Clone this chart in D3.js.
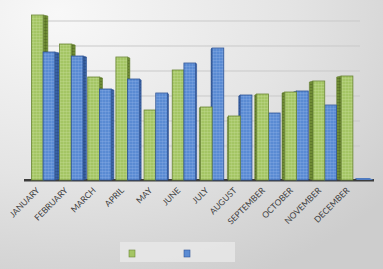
<!DOCTYPE html>
<html>
<head>
<meta charset='utf-8'>
<style>
body { margin:0; overflow:hidden; }
svg { display:block; }
.lbl { font-family: Lato, 'Open Sans', sans-serif; font-size: 8.5px; fill: #404040; }
</style>
</head>
<body>
<svg width="383" height="269"></svg>
<script src="https://d3js.org/d3.v7.min.js"></script>
<script>

// data (arbitrary units)
var months = ["JANUARY","FEBRUARY","MARCH","APRIL","MAY","JUNE","JULY","AUGUST","SEPTEMBER","OCTOBER","NOVEMBER","DECEMBER"];
var greenVals = [165,136,103,123,70,110,73,64,86,88,99,104];
var blueVals  = [128,124,91,101,87,117,132,85,67,89,75,1];
var gridVals  = [25,50,75,100,125,150];
var seriesNames = ["", ""];

var svg = d3.select('svg'),
    width = 383, height = 269,
    baseY = 180, depth = 9, eyeX = 196;

var defs = svg.append('defs');
var bg = defs.append('radialGradient').attr('id','bg')
  .attr('cx','0.15').attr('cy','0.05').attr('r','1.1');
bg.append('stop').attr('offset','0').attr('stop-color','#f8f8f8');
bg.append('stop').attr('offset','0.55').attr('stop-color','#e4e4e4');
bg.append('stop').attr('offset','1').attr('stop-color','#cdcdcd');

// little dotted texture on the bars
function texture(id, base, light) {
  var p = defs.append('pattern').attr('id', id)
    .attr('width', 3).attr('height', 3).attr('patternUnits','userSpaceOnUse');
  p.append('rect').attr('width',3).attr('height',3).attr('fill', base);
  p.append('rect').attr('width',3).attr('height',1).attr('fill', light).attr('opacity',0.35);
  p.append('rect').attr('width',1).attr('height',3).attr('fill', light).attr('opacity',0.25);
}
texture('gFront', '#a4c564', '#c8e09a');
texture('bFront', '#5a8bd3', '#8fb2e6');
texture('gSide', '#6f8c34', '#3e5218');
texture('bSide', '#3b64a6', '#21406e');

svg.append('rect').attr('width', width).attr('height', height).attr('fill','url(#bg)');

var x = d3.scaleBand().domain(months).range([30, 366]).paddingInner(0.17).paddingOuter(0.05);
var xs = d3.scaleBand().domain([0,1]).range([0, x.bandwidth()]);
var y = d3.scaleLinear().domain([0, 180]).range([baseY, 0]);

// back wall gridlines
svg.append('g').selectAll('line').data(gridVals).enter().append('line')
  .attr('x1', 47).attr('x2', 360)
  .attr('y1', d => y(d) - depth).attr('y2', d => y(d) - depth)
  .attr('stroke', '#c9c9c9').attr('stroke-width', 1);

// floor edge
svg.append('rect').attr('x', 24).attr('y', baseY - 1).attr('width', 350).attr('height', 2.5)
  .attr('fill', '#3c3c3c');

// bars
var bars = [];
months.forEach(function(m, i) {
  bars.push({m: m, s: 0, v: greenVals[i]});
  bars.push({m: m, s: 1, v: blueVals[i]});
});
bars.forEach(function(b) {
  b.x1 = x(b.m) + xs(b.s);
  b.x2 = b.x1 + xs.bandwidth();
  b.cx = (b.x1 + b.x2) / 2;
  b.top = y(b.v);
});
// draw the bars furthest from the eye first so nearer ones hide their sides
bars.sort((a, b) => Math.abs(b.cx - eyeX) - Math.abs(a.cx - eyeX));

var g = svg.append('g');
bars.forEach(function(b) {
  var side = Math.max(1, Math.abs(b.cx - eyeX) * 0.03);
  var sx = b.cx < eyeX ? b.x2 : b.x1;
  var dir = b.cx < eyeX ? 1 : -1;
  var col = b.s === 0 ? 'g' : 'b';
  var stroke = b.s === 0 ? '#6a8536' : '#2f5496';
  if (b.v > 2) {
    g.append('path')
      .attr('d', `M${sx},${b.top} L${sx + dir*side},${b.top + 1} L${sx + dir*side},${baseY - 1} L${sx},${baseY} Z`)
      .attr('fill', `url(#${col}Side)`).attr('stroke', stroke).attr('stroke-width', 0.6);
    g.append('rect')
      .attr('x', b.x1).attr('y', b.top)
      .attr('width', b.x2 - b.x1).attr('height', Math.max(0, baseY - b.top))
      .attr('fill', `url(#${col}Front)`).attr('stroke', stroke).attr('stroke-width', 0.8);
  } else {
    // flat sliver lying on the floor
    g.append('path')
      .attr('d', `M${b.x1 + 2},${baseY-2} L${b.x2 + 5},${baseY-2} L${b.x2 + 9},${baseY} L${b.x1 + 4},${baseY} Z`)
      .attr('fill', '#4f7bc0');
  }
});

// month labels
svg.append('g').selectAll('text').data(months).enter().append('text')
  .attr('class', 'lbl')
  .attr('text-anchor', 'end')
  .attr('transform', d => `translate(${x(d) + x.bandwidth()/2 - 3},${baseY + 11}) rotate(-45)`)
  .text(d => d);

// legend (series names are empty in the source)
var leg = svg.append('g');
leg.append('rect').attr('x', 120).attr('y', 242).attr('width', 115).attr('height', 20)
  .attr('fill', '#e9e9e9').attr('opacity', 0.8);
var legColors = [['#a4c564', '#6a8536'], ['#5a8bd3', '#2f5496']];
seriesNames.forEach(function(n, i) {
  leg.append('rect').attr('x', 129 + i*55).attr('y', 250).attr('width', 6).attr('height', 7)
    .attr('fill', legColors[i][0]).attr('stroke', legColors[i][1]).attr('stroke-width', 0.6);
  leg.append('text').attr('class', 'lbl').attr('x', 138 + i*55).attr('y', 256).text(n);
});

</script>
</body>
</html>
